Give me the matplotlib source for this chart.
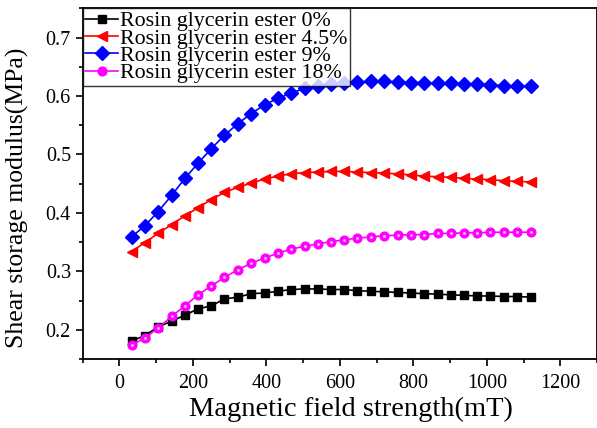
import matplotlib
matplotlib.use("Agg")
import matplotlib.pyplot as plt
from matplotlib.ticker import MultipleLocator

plt.rcParams['font.family'] = ['Liberation Serif', 'DejaVu Serif']
plt.rcParams['mathtext.fontset'] = 'stix'

field_mT = [33, 69, 105, 142, 178, 214, 250, 286, 323, 359, 395, 431, 467, 504,
            540, 576, 612, 648, 685, 721, 757, 793, 829, 866, 902, 938, 974,
            1010, 1047, 1083, 1119]

ester_0 = [0.181, 0.190, 0.205, 0.215, 0.225, 0.236, 0.241, 0.253, 0.256, 0.262,
           0.263, 0.266, 0.269, 0.270, 0.270, 0.269, 0.269, 0.267, 0.266, 0.265,
           0.264, 0.263, 0.262, 0.261, 0.260, 0.259, 0.258, 0.258, 0.257, 0.257,
           0.256]

ester_4_5 = [0.334, 0.349, 0.365, 0.380, 0.395, 0.409, 0.423, 0.435, 0.444, 0.451,
             0.458, 0.463, 0.467, 0.469, 0.470, 0.471, 0.471, 0.470, 0.469, 0.468,
             0.467, 0.465, 0.463, 0.462, 0.461, 0.459, 0.458, 0.457, 0.455, 0.454,
             0.453]

ester_9 = [0.359, 0.378, 0.402, 0.430, 0.459, 0.485, 0.510, 0.533, 0.553, 0.570,
           0.585, 0.596, 0.605, 0.613, 0.618, 0.621, 0.623, 0.624, 0.625, 0.625,
           0.624, 0.623, 0.623, 0.622, 0.622, 0.621, 0.620, 0.619, 0.618, 0.617,
           0.617]

ester_18 = [0.174, 0.186, 0.203, 0.223, 0.241, 0.260, 0.275, 0.290, 0.303, 0.314,
            0.323, 0.331, 0.338, 0.343, 0.347, 0.351, 0.354, 0.357, 0.359, 0.361,
            0.362, 0.363, 0.363, 0.365, 0.365, 0.366, 0.366, 0.367, 0.367, 0.367,
            0.367]

labels = ['Rosin glycerin ester 0%', 'Rosin glycerin ester 4.5%',
          'Rosin glycerin ester 9%', 'Rosin glycerin ester 18%']

fig = plt.figure(figsize=(5.97, 4.28), dpi=100)
ax = fig.add_axes([0.1385, 0.161, 0.8615, 0.8195])

ax.plot(field_mT, ester_0, color='black', marker='s', markersize=5.5, lw=1.2,
        label=labels[0])
ax.plot(field_mT, ester_4_5, color='red', marker='<', markersize=7.5, lw=1.2,
        label=labels[1])
ax.plot(field_mT, ester_9, color='blue', marker='D', markersize=7.2, lw=1.2,
        label=labels[2])
ax.plot(field_mT, ester_18, color='magenta', marker='o', markersize=6.3, lw=1.2,
        label=labels[3])
# specular highlight on the spheres
ax.plot(field_mT, ester_18, ls='none', marker='o', markersize=2.2,
        color='#ffb0ff', markeredgewidth=0)

ax.set_xlim(-100, 1300)
ax.set_ylim(0.15, 0.75)
ax.xaxis.set_minor_locator(MultipleLocator(100))
ax.yaxis.set_minor_locator(MultipleLocator(0.05))
ax.set_xticks([0, 200, 400, 600, 800, 1000, 1200])
ax.set_yticks([0.2, 0.3, 0.4, 0.5, 0.6, 0.7])
ax.tick_params(which='major', direction='out', length=5, width=1.2,
               labelsize=14.5, top=False, right=False)
ax.tick_params(axis='x', which='major', pad=6)
ax.tick_params(which='minor', direction='out', length=3, width=1.2,
               top=False, right=False)
for s in ax.spines.values():
    s.set_linewidth(1.3)

ax.set_xlabel('Magnetic field strength(mT)', fontsize=20.5)
ax.xaxis.set_label_coords(0.522, -0.108)
ax.set_ylabel('Shear storage modulus(MPa)', fontsize=18.5)
ax.yaxis.set_label_coords(-0.104, 0.46)

leg = ax.legend(loc='upper left', bbox_to_anchor=(0.0, 1.0), fontsize=15.8,
                frameon=True, fancybox=False, edgecolor='black',
                borderpad=0.12, labelspacing=-0.14, handlelength=1.5,
                handletextpad=0.1, borderaxespad=0.0)
leg.get_frame().set_linewidth(1.0)

fig.savefig('out.png', dpi=100)
